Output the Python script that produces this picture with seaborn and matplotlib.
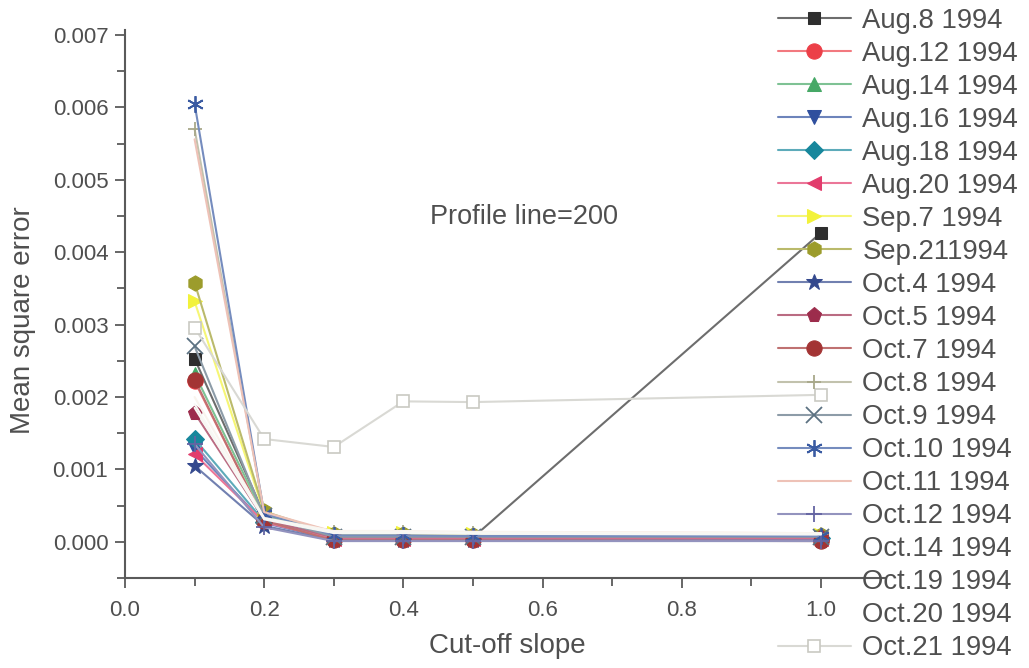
import numpy as np
import pandas as pd
import matplotlib
matplotlib.use("Agg")
import matplotlib.pyplot as plt
import matplotlib.colors as mcolors
import seaborn as sns

# Cut-off slope values tested
slopes = [0.1, 0.2, 0.3, 0.4, 0.5, 1.0]

# Acquisition dates
dates = ["Aug.8 1994", "Aug.12 1994", "Aug.14 1994", "Aug.16 1994", "Aug.18 1994",
         "Aug.20 1994", "Sep.7 1994", "Sep.211994", "Oct.4 1994", "Oct.5 1994",
         "Oct.7 1994", "Oct.8 1994", "Oct.9 1994", "Oct.10 1994", "Oct.11 1994",
         "Oct.12 1994", "Oct.14 1994", "Oct.19 1994", "Oct.20 1994", "Oct.21 1994"]

# Mean square error per date, one value per cut-off slope
aug08 = [0.00253, 0.00038, 0.00008, 0.00008, 0.00006, 0.00427]
aug12 = [0.00222, 0.00030, 0.00004, 0.00004, 0.00004, 0.00003]
aug14 = [0.00232, 0.00036, 0.00010, 0.00010, 0.00009, 0.00008]
aug16 = [0.00128, 0.00026, 0.00003, 0.00003, 0.00003, 0.00003]
aug18 = [0.00142, 0.00028, 0.00005, 0.00005, 0.00005, 0.00005]
aug20 = [0.00121, 0.00027, 0.00004, 0.00004, 0.00004, 0.00004]
sep07 = [0.00332, 0.00040, 0.00012, 0.00012, 0.00011, 0.00010]
sep21 = [0.00358, 0.00042, 0.00011, 0.00011, 0.00010, 0.00009]
oct04 = [0.00105, 0.00022, 0.00002, 0.00002, 0.00002, 0.00002]
oct05 = [0.00178, 0.00031, 0.00006, 0.00006, 0.00006, 0.00006]
oct07 = [0.00224, 0.00029, 0.00002, 0.00002, 0.00002, 0.00001]
oct08 = [0.00570, 0.00040, 0.00013, 0.00013, 0.00012, 0.00011]
oct09 = [0.00270, 0.00035, 0.00007, 0.00007, 0.00007, 0.00007]
oct10 = [0.00605, 0.00039, 0.00009, 0.00009, 0.00008, 0.00008]
oct11 = [0.00556, 0.00041, 0.00014, 0.00014, 0.00013, 0.00012]
oct12 = [0.00135, 0.00020, 0.00001, 0.00001, 0.00001, 0.00001]
oct14 = [0.00200, 0.00033, 0.00015, 0.00015, 0.00014, 0.00012]
oct19 = [0.00190, 0.00032, 0.00013, 0.00013, 0.00012, 0.00011]
oct20 = [0.00185, 0.00031, 0.00012, 0.00012, 0.00011, 0.00010]
oct21 = [0.00296, 0.00142, 0.00131, 0.00194, 0.00193, 0.00203]

series = [aug08, aug12, aug14, aug16, aug18, aug20, sep07, sep21, oct04, oct05,
          oct07, oct08, oct09, oct10, oct11, oct12, oct14, oct19, oct20, oct21]

colors = ["#2e2e2e", "#ec3f48", "#46a866", "#2f4f9e", "#17879c", "#e23c6c",
          "#f2f23a", "#9c9c2c", "#34498e", "#9c2c4c", "#a33434", "#a8a88a",
          "#5c7282", "#3a5ba2", "#e6a898", "#6464a2", "#f6efe6", "#f7f7f2",
          "#f4f4ee", "#c9c9c2"]
markers = ["s", "o", "^", "v", "D", "<", ">", "h", "*", "p", "o", "+", "x",
           (6, 2, 0), "None", "+", "None", "None", "None", "s"]
msizes = [9, 11, 10, 10, 9, 10, 10, 11, 12, 11, 11, 10, 11, 12, 0, 12, 0, 0, 0, 8]

records = []
for name, vals in zip(dates, series):
    for s, v in zip(slopes, vals):
        records.append({"slope": s, "mse": v, "date": name})
df = pd.DataFrame(records)

sns.set_style("ticks")
plt.rcParams["font.family"] = ["Liberation Sans", "DejaVu Sans"]
text_color = "#4f4f4f"
axis_color = "#5a5a5a"

fig = plt.figure(figsize=(10.29, 6.68), dpi=100)
ax = fig.add_axes([125 / 1029, 1 - 578 / 668, 760 / 1029, 548 / 668])

sns.lineplot(data=df, x="slope", y="mse", hue="date", hue_order=dates,
             palette=dict(zip(dates, colors)), linewidth=1.5, legend=False,
             ax=ax, sort=False)

def lighten(c, amount):
    r, g, b = mcolors.to_rgb(c)
    return (r + (1 - r) * amount, g + (1 - g) * amount, b + (1 - b) * amount)

lines = ax.get_lines()
for ln, c, m, ms in zip(lines, colors, markers, msizes):
    ln.set_marker(m)
    ln.set_markersize(ms)
    ln.set_markerfacecolor(c)
    ln.set_markeredgecolor(c)
    if m in ("+", "x") or isinstance(m, tuple):
        ln.set_markeredgewidth(1.3)
    if m == "s" and c == "#c9c9c2":
        ln.set_markerfacecolor("white")
        ln.set_markeredgewidth(1.2)
    ln.set_color(lighten(c, 0.3))

ax.set_xlim(0, 1.092)
ax.set_ylim(-0.00048, 0.00707)
ax.set_xticks([0.0, 0.2, 0.4, 0.6, 0.8, 1.0])
ax.set_xticks(np.arange(0.1, 1.01, 0.2), minor=True)
ax.set_yticks(np.arange(0, 0.0071, 0.001))
ax.set_yticks(np.arange(-0.0005, 0.0070, 0.001), minor=True)
ax.set_xticklabels([f"{t:.1f}" for t in [0.0, 0.2, 0.4, 0.6, 0.8, 1.0]])
ax.set_yticklabels([f"{t:.3f}" for t in np.arange(0, 0.0071, 0.001)])

for side in ("top", "right"):
    ax.spines[side].set_visible(False)
for side in ("left", "bottom"):
    ax.spines[side].set_color(axis_color)
    ax.spines[side].set_linewidth(1.5)

ax.tick_params(axis="both", which="major", direction="out", length=7, width=1.3,
               color=axis_color, labelsize=16, labelcolor=text_color)
ax.tick_params(axis="both", which="minor", direction="out", length=6, width=1.3,
               color=axis_color)
ax.tick_params(axis="y", which="major", pad=5)
ax.tick_params(axis="x", which="major", pad=9)

ax.set_xlabel("Cut-off slope", fontsize=20, color=text_color)
ax.set_ylabel("Mean square error", fontsize=20, color=text_color)
ax.xaxis.set_label_coords(0.503, -0.100)
ax.yaxis.set_label_coords(-0.117, 0.471)

ax.text(0.438, 0.00449, "Profile line=200", fontsize=19.5, color=text_color,
        ha="left", va="center")

leg = ax.legend(handles=lines, labels=dates, loc="upper left",
                bbox_to_anchor=(778 / 1029, 1 - 8 / 668),
                bbox_transform=fig.transFigure, frameon=False, fontsize=19.8,
                labelspacing=0.255, handlelength=2.65, handletextpad=0.42,
                borderpad=0, borderaxespad=0)
for t in leg.get_texts():
    t.set_color(text_color)
# the near-white series leave no visible key line
for h, m, c in zip(leg.legend_handles, markers, colors):
    if m == "None" and mcolors.to_rgb(c)[2] > 0.9:
        h.set_visible(False)

fig.savefig("out.png", dpi=100, facecolor="white")
